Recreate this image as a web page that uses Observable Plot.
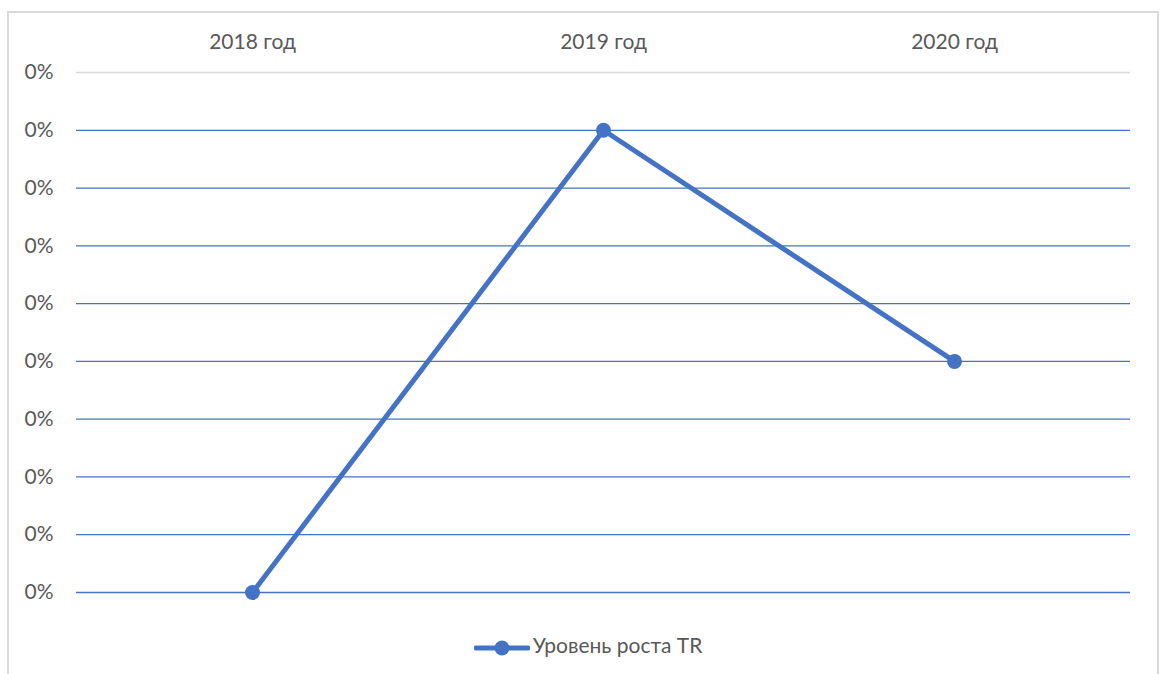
<!DOCTYPE html>
<html><head><meta charset="utf-8">
<script src="https://cdn.jsdelivr.net/npm/d3@7"></script>
<script src="https://cdn.jsdelivr.net/npm/@observablehq/plot@0.6"></script>
<style>
body{margin:0;background:#fff;font-family:Lato,"Open Sans",sans-serif;}
#frame{position:absolute;left:7px;top:11px;width:1152px;height:680px;border:2px solid #d9d9d9;border-bottom:none;box-sizing:border-box;}
#chart{position:absolute;left:0;top:0;}
#legend{position:absolute;left:0;top:632px;width:1176px;text-align:center;font-size:21px;color:#595959;font-family:Lato,"Open Sans",sans-serif;}
#legend svg{vertical-align:middle;margin-right:3px;}
</style></head><body>
<div id="frame"></div>
<div id="chart"></div>
<div id="legend"></div>
<script>
const years = ["2018 год", "2019 год", "2020 год"];
const values = [0, 0.0016, 0.0008];
const tickValues = [0, 0.0002, 0.0004, 0.0006, 0.0008, 0.001, 0.0012, 0.0014, 0.0016, 0.0018];
const seriesName = "Уровень роста TR";
const color = "#4472C4";

const data = years.map((y, i) => ({year: y, value: values[i]}));
const chart = Plot.plot({
  width: 1166, height: 620,
  marginLeft: 76, marginRight: 36, marginTop: 72, marginBottom: 28,
  style: {fontFamily: "Lato, 'Open Sans', sans-serif", fontSize: "21px", color: "#595959", background: "transparent"},
  x: {type: "point", domain: years, padding: 0.5, label: null},
  y: {domain: [0, 0.0018], label: null},
  marks: [
    Plot.ruleY(tickValues, {stroke: d => d === 0.0018 ? "#d9d9d9" : color, strokeWidth: 1.3, strokeOpacity: 1}),
    Plot.axisX({anchor: "top", tickSize: 0, tickPadding: 24, fontSize: 21, label: null}),
    Plot.axisY({ticks: tickValues, tickSize: 0, tickPadding: 23, tickFormat: d3.format(".0%"), fontSize: 21, label: null}),
    Plot.line(data, {x: "year", y: "value", stroke: color, strokeWidth: 5}),
    Plot.dot(data, {x: "year", y: "value", r: 7.5, fill: color, stroke: "none"})
  ]
});
document.getElementById("chart").appendChild(chart);
const lg = document.getElementById("legend");
lg.innerHTML = `<svg width="56" height="18"><line x1="2" y1="9" x2="54" y2="9" stroke="${color}" stroke-width="5" stroke-linecap="round"/><circle cx="28" cy="9" r="7.5" fill="${color}"/></svg><span></span>`;
lg.querySelector("span").textContent = seriesName;
</script>
</body></html>
